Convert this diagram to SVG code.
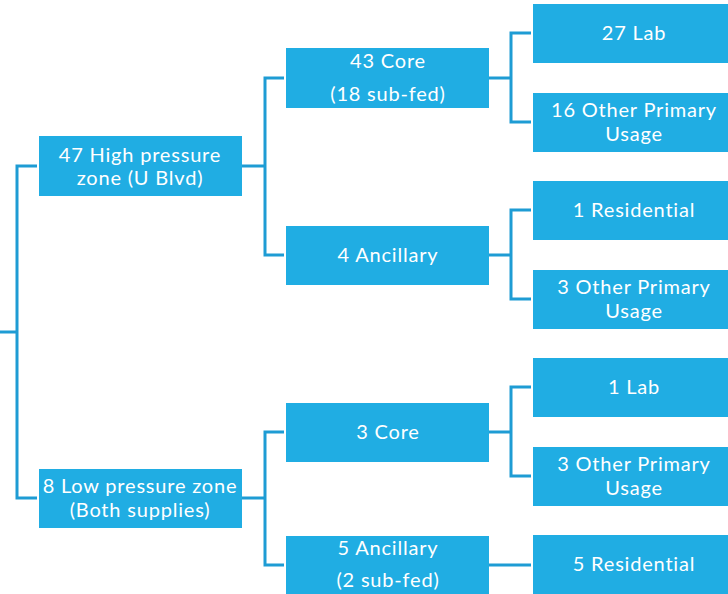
<svg xmlns="http://www.w3.org/2000/svg" width="728" height="594" viewBox="0 0 728 594">
<style>
.box{fill:#20ADE3}
.t{font-family:Lato,"Open Sans","DejaVu Sans",sans-serif;font-size:20px;letter-spacing:0.8px;fill:#fff;text-anchor:middle}
.c{fill:none;stroke:#1E9CD4;stroke-width:3}
</style>
<rect width="728" height="594" fill="#fff"/>
<g id="connectors" class="c">
<path d="M0,332H17M37,166H17V498H37"/>
<path d="M242,166H265M284,78H265V255H284"/>
<path d="M242,498H265M284,432H265V565H284"/>
<path d="M489,78H511M531,33H511V122H531"/>
<path d="M489,255H511M531,210H511V299H531"/>
<path d="M489,432H511M531,387H511V476H531"/>
<path d="M489,565H531"/>
</g>
<g id="high"><rect class="box" x="39" y="136" width="203" height="60"/><text class="t" x="140" y="162">47 High pressure</text><text class="t" x="140" y="185">zone (U Blvd)</text></g>
<g id="low"><rect class="box" x="39" y="469" width="203" height="59"/><text class="t" x="140" y="493">8 Low pressure zone</text><text class="t" x="140" y="517">(Both supplies)</text></g>
<g id="core43"><rect class="box" x="286" y="48" width="203" height="60"/><text class="t" x="388" y="68">43 Core</text><text class="t" x="388" y="101">(18 sub-fed)</text></g>
<g id="anc4"><rect class="box" x="286" y="226" width="203" height="59"/><text class="t" x="388" y="262">4 Ancillary</text></g>
<g id="core3"><rect class="box" x="286" y="403" width="203" height="59"/><text class="t" x="388" y="439">3 Core</text></g>
<g id="anc5"><rect class="box" x="286" y="536" width="203" height="58"/><text class="t" x="388" y="555">5 Ancillary</text><text class="t" x="388" y="587">(2 sub-fed)</text></g>
<g id="lab27"><rect class="box" x="533" y="4" width="195" height="59"/><text class="t" x="634" y="40">27 Lab</text></g>
<g id="other16"><rect class="box" x="533" y="93" width="195" height="59"/><text class="t" x="634" y="117">16 Other Primary</text><text class="t" x="634" y="141">Usage</text></g>
<g id="res1"><rect class="box" x="533" y="181" width="195" height="59"/><text class="t" x="634" y="217">1 Residential</text></g>
<g id="other3a"><rect class="box" x="533" y="270" width="195" height="59"/><text class="t" x="634" y="294">3 Other Primary</text><text class="t" x="634" y="318">Usage</text></g>
<g id="lab1"><rect class="box" x="533" y="358" width="195" height="59"/><text class="t" x="634" y="394">1 Lab</text></g>
<g id="other3b"><rect class="box" x="533" y="447" width="195" height="59"/><text class="t" x="634" y="471">3 Other Primary</text><text class="t" x="634" y="495">Usage</text></g>
<g id="res5"><rect class="box" x="533" y="535" width="195" height="59"/><text class="t" x="634" y="571">5 Residential</text></g>
</svg>
